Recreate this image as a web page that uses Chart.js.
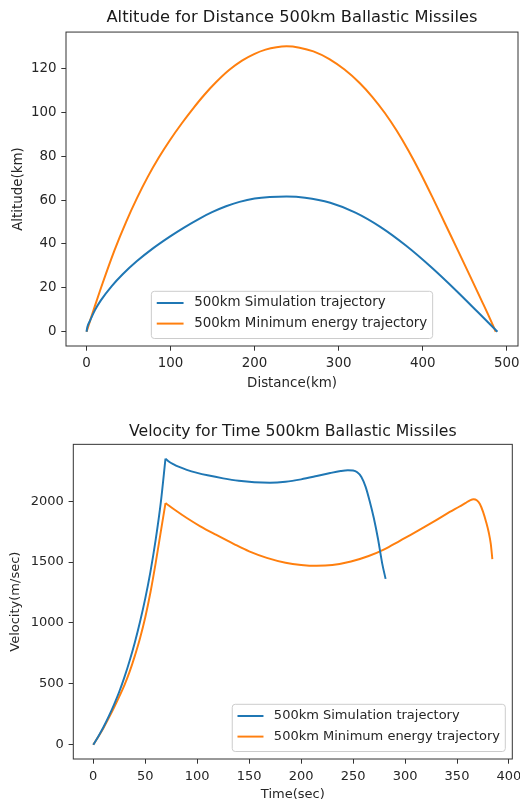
<!DOCTYPE html>
<html>
<head>
<meta charset="utf-8">
<title>500km Ballastic Missiles</title>
<script src="https://cdn.jsdelivr.net/npm/chart.js@4.4.1/dist/chart.umd.min.js"></script>
<style>
  body { margin: 0; background: #fff; }
  canvas { display: block; }
</style>
</head>
<body>
<canvas id="altitudeChart" width="520" height="400"></canvas>
<canvas id="velocityChart" width="520" height="405"></canvas>
<script>
// altitude vs distance (km)
const simDistance = [0, 1, 4, 10, 17, 30, 43, 60, 79, 100, 116, 134, 150, 166, 182, 200, 218, 238, 260, 290, 320, 350, 380, 410, 440, 465, 489];
const simAltitude = [0, 2.2, 4.9, 9.85, 14.3, 20.8, 26.2, 32.2, 38, 43.6, 47.5, 51.5, 54.6, 57.2, 59.2, 60.7, 61.4, 61.6, 61.1, 58.8, 54.3, 47.7, 39.3, 29.5, 18.7, 9.2, 0];
const minDistance = [0, 5, 10, 19, 33, 47, 60, 73, 86, 99, 113, 126.5, 140, 154, 170, 185, 200, 213, 226, 238, 253.5, 270, 289, 307, 325, 340, 355, 369, 383, 397, 412, 427, 442, 456, 470, 479, 487];
const minAltitude = [0, 5.95, 11.8, 22, 36.9, 50, 60.9, 70.7, 79.4, 87.2, 94.8, 101.6, 107.9, 113.7, 119.4, 123.6, 126.7, 128.6, 129.7, 130.1, 129.5, 127.8, 124.3, 119.5, 113.4, 107.1, 99.7, 91.7, 82.6, 72.6, 61, 49, 37, 25.7, 14.3, 6.9, 0];
const distanceTicks = [0, 100, 200, 300, 400, 500];
const altitudeTicks = [0, 20, 40, 60, 80, 100, 120];

// velocity vs time (sec)
const simTime = [0, 5, 10, 15, 20, 25, 30, 35, 40, 45, 50, 55, 60, 65, 69.5, 73, 77, 82, 90, 100, 110, 125, 140, 155, 170, 185, 200, 215, 228, 238, 245, 250, 254, 258, 262, 266, 270, 274, 278, 281.3];
const simVelocity = [0, 70, 148, 235, 330, 435, 555, 690, 840, 1010, 1200, 1420, 1680, 1990, 2350, 2325, 2305, 2284, 2258, 2233, 2213, 2188, 2168, 2156, 2152, 2160, 2180, 2207, 2232, 2248, 2254, 2252, 2238, 2200, 2120, 2000, 1860, 1690, 1490, 1362];
const minTime = [0, 5, 10, 15, 20, 25, 30, 35, 40, 45, 50, 55, 60, 65, 69.5, 78, 90, 103, 118, 135, 150, 167, 185, 200, 215, 230, 248, 265, 280, 295, 305, 318, 330, 343, 352, 358, 363, 366, 369, 372, 375, 378, 380.5, 382.5, 384];
const minVelocity = [0, 68, 140, 220, 305, 395, 490, 600, 730, 875, 1045, 1250, 1490, 1750, 1985, 1932, 1862, 1794, 1725, 1650, 1588, 1535, 1495, 1477, 1470, 1476, 1505, 1550, 1605, 1675, 1722, 1785, 1845, 1912, 1955, 1985, 2010, 2016, 2008, 1978, 1915, 1830, 1745, 1650, 1525];
const timeTicks = [0, 50, 100, 150, 200, 250, 300, 350, 400];
const velocityTicks = [0, 500, 1000, 1500, 2000];

const SIM_LABEL = "500km Simulation trajectory";
const MIN_LABEL = "500km Minimum energy trajectory";
const BLUE = "#1f77b4";
const ORANGE = "#ff7f0e";
const FONT = "'DejaVu Sans', sans-serif";
const INK = "#262626";
const SPINE = "#333333";

Chart.defaults.font.family = FONT;
Chart.defaults.color = INK;

function points(xs, ys) {
  return xs.map((x, i) => ({ x: x, y: ys[i] }));
}

// 5% margin on each side, like the usual autoscale
function paddedRange(values) {
  const lo = Math.min(...values);
  const hi = Math.max(...values);
  const m = (hi - lo) * 0.05;
  return { min: lo - m, max: hi + m };
}

// frame on all four sides and a boxed legend inside the plot area
const axesBox = {
  id: "axesBox",
  afterDraw(chart, args, opts) {
    const ctx = chart.ctx;
    const a = chart.chartArea;
    const k = opts.fontSize / 13.4;
    ctx.save();
    ctx.strokeStyle = SPINE;
    ctx.lineWidth = 1;
    ctx.strokeRect(a.left, a.top, a.right - a.left, a.bottom - a.top);

    ctx.font = opts.fontSize + "px " + FONT;
    const sets = chart.data.datasets.filter(d => !d.noLegend);
    const textW = Math.max(...sets.map(d => ctx.measureText(d.label).width));
    const pad = 5.4 * k, handle = 26.8 * k, gap = 10.7 * k, rowH = 20.6;
    const w = pad + handle + gap + textW + pad;
    const h = rowH * sets.length + 6;
    const x = opts.align === "right" ? a.right - 7 - w : (a.left + a.right - w) / 2;
    const y = a.bottom - 7.5 - h;

    ctx.beginPath();
    if (ctx.roundRect) ctx.roundRect(x, y, w, h, 3);
    else ctx.rect(x, y, w, h);
    ctx.fillStyle = "rgba(255,255,255,0.8)";
    ctx.fill();
    ctx.strokeStyle = "#cccccc";
    ctx.stroke();

    ctx.textBaseline = "middle";
    ctx.textAlign = "left";
    sets.forEach((d, i) => {
      const cy = y + 11.7 + i * rowH;
      ctx.beginPath();
      ctx.moveTo(x + pad, cy);
      ctx.lineTo(x + pad + handle, cy);
      ctx.strokeStyle = d.borderColor;
      ctx.lineWidth = d.borderWidth;
      ctx.stroke();
      ctx.fillStyle = INK;
      ctx.fillText(d.label, x + pad + handle + gap, cy);
    });
    ctx.restore();
  }
};

function axis(tickValues, range, title, titlePadding, size, horizontal, fontSize) {
  return {
    type: "linear",
    min: range.min,
    max: range.max,
    afterBuildTicks: s => { s.ticks = tickValues.map(v => ({ value: v })); },
    afterFit: s => {
      if (horizontal) s.height = size; else s.width = size;
      s.paddingLeft = s.paddingRight = s.paddingTop = s.paddingBottom = 0;
    },
    ticks: { padding: 4.8, autoSkip: false, maxRotation: 0, color: INK, font: { size: fontSize }, callback: v => String(v) },
    grid: { drawOnChartArea: false, drawTicks: true, tickLength: 4.7, color: SPINE, lineWidth: 1 },
    border: { display: false },
    title: { display: true, text: title, color: INK, font: { size: fontSize }, padding: titlePadding }
  };
}

function series(label, color, xs, ys, width) {
  return {
    label: label,
    data: points(xs, ys),
    borderColor: color,
    backgroundColor: color,
    borderWidth: width,
    borderJoinStyle: "round",
    pointRadius: 0,
    cubicInterpolationMode: "monotone",
    fill: false
  };
}

// a powered flight ends at burnout (the velocity peak): draw the boost and
// the coast as separate smooth pieces so the corner stays sharp
function splitAtBurnout(label, color, xs, ys, width) {
  const i = ys.indexOf(Math.max(...ys.slice(0, Math.ceil(ys.length / 2))));
  const boost = series(label, color, xs.slice(0, i + 1), ys.slice(0, i + 1), width);
  const coast = series(label, color, xs.slice(i), ys.slice(i), width);
  coast.noLegend = true;
  return [boost, coast];
}

function lineChart(canvasId, s) {
  return new Chart(document.getElementById(canvasId), {
    type: "line",
    data: { datasets: s.datasets },
    options: {
      responsive: false,
      animation: false,
      events: [],
      layout: { padding: { left: 0, right: s.rightPad, top: 0, bottom: 0 } },
      scales: {
        x: axis(s.xTicks, paddedRange(s.xValues), s.xTitle, { top: 0, bottom: s.xTitlePad }, s.xHeight, true, s.fontSize),
        y: axis(s.yTicks, paddedRange(s.yValues), s.yTitle, { top: s.yTitlePad, bottom: 0 }, s.yWidth, false, s.fontSize)
      },
      plugins: {
        legend: { display: false },
        tooltip: { enabled: false },
        title: {
          display: true,
          text: s.title,
          fullSize: false,
          color: "#1a1a1a",
          font: { size: s.titleSize, weight: "normal" },
          padding: s.titlePad
        },
        axesBox: { align: s.legendAlign, fontSize: s.fontSize }
      }
    },
    plugins: [axesBox]
  });
}

lineChart("altitudeChart", {
  title: "Altitude for Distance 500km Ballastic Missiles",
  xTitle: "Distance(km)",
  yTitle: "Altitude(km)",
  datasets: [
    series(SIM_LABEL, BLUE, simDistance, simAltitude, 2),
    series(MIN_LABEL, ORANGE, minDistance, minAltitude, 2)
  ],
  xValues: simDistance.concat(minDistance),
  yValues: simAltitude.concat(minAltitude),
  xTicks: distanceTicks,
  yTicks: altitudeTicks,
  fontSize: 13.4,
  titleSize: 16.3,
  titlePad: { top: 8, bottom: 4.5 },
  xHeight: 54,
  yWidth: 66,
  xTitlePad: 8.5,
  yTitlePad: 10.5,
  rightPad: 2,
  legendAlign: "center"
});

lineChart("velocityChart", {
  title: "Velocity for Time 500km Ballastic Missiles",
  xTitle: "Time(sec)",
  yTitle: "Velocity(m/sec)",
  datasets: [
    ...splitAtBurnout(SIM_LABEL, BLUE, simTime, simVelocity, 1.95),
    ...splitAtBurnout(MIN_LABEL, ORANGE, minTime, minVelocity, 1.95)
  ],
  xValues: simTime.concat(minTime),
  yValues: simVelocity.concat(minVelocity),
  xTicks: timeTicks,
  yTicks: velocityTicks,
  fontSize: 13,
  titleSize: 15.7,
  titlePad: { top: 22.6, bottom: 2.9 },
  xHeight: 46,
  yWidth: 73.3,
  xTitlePad: 3,
  yTitlePad: 8,
  rightPad: 7.7,
  legendAlign: "right"
});
</script>
</body>
</html>
